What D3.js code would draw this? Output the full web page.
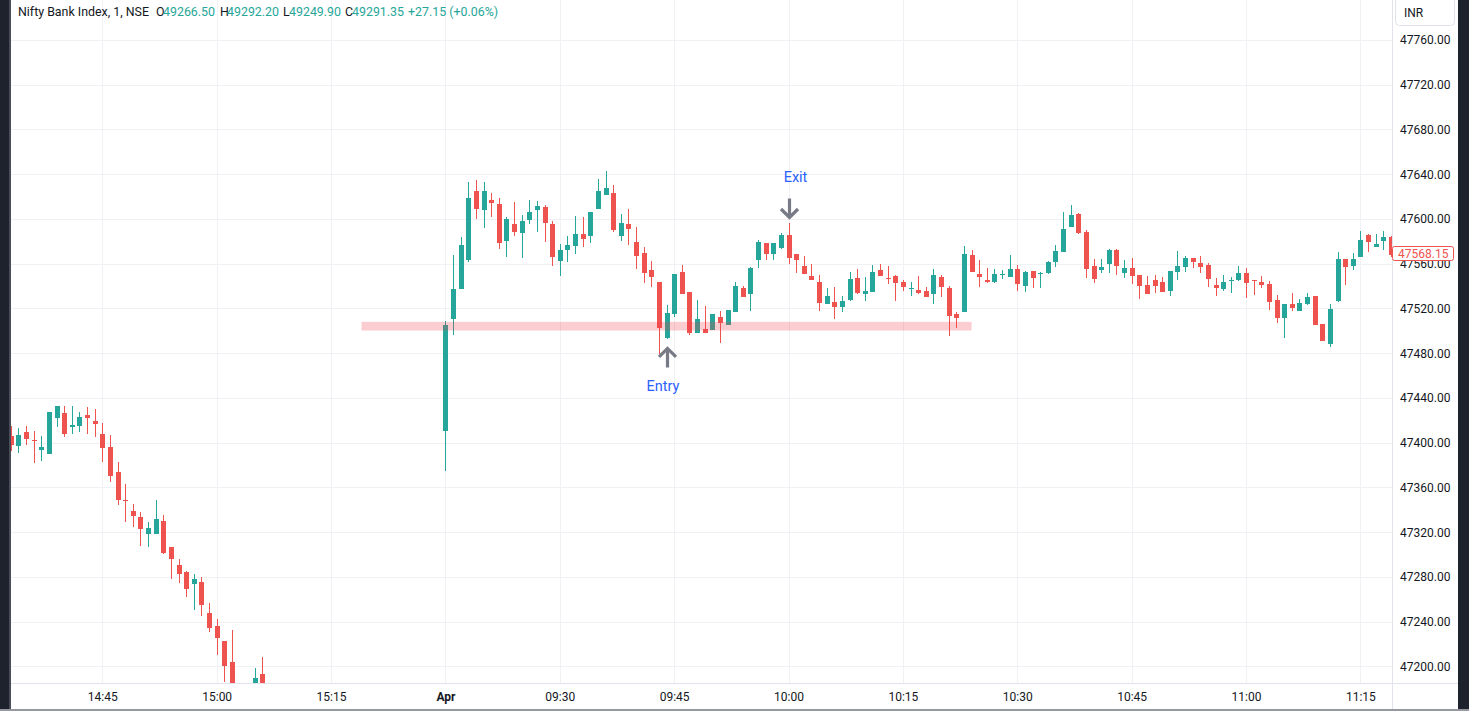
<!DOCTYPE html>
<html><head><meta charset="utf-8">
<script src="https://cdn.jsdelivr.net/npm/d3@7"></script>
<style>html,body{margin:0;padding:0;background:#fff;overflow:hidden}
text{font-family:Roboto,"Noto Sans",Arial,sans-serif}</style>
</head><body>
<svg id="c" width="1469" height="711"></svg>
<script>
// ---------- DATA ----------
const times = [
"03-28 14:33","03-28 14:34","03-28 14:35","03-28 14:36","03-28 14:37","03-28 14:38","03-28 14:39","03-28 14:40","03-28 14:41","03-28 14:42",
"03-28 14:43","03-28 14:44","03-28 14:45","03-28 14:46","03-28 14:47","03-28 14:48","03-28 14:49","03-28 14:50","03-28 14:51","03-28 14:52",
"03-28 14:53","03-28 14:54","03-28 14:55","03-28 14:56","03-28 14:57","03-28 14:58","03-28 14:59","03-28 15:00","03-28 15:01","03-28 15:02",
"03-28 15:05","03-28 15:06",
"04-01 09:15","04-01 09:16","04-01 09:17","04-01 09:18","04-01 09:19","04-01 09:20","04-01 09:21","04-01 09:22","04-01 09:23","04-01 09:24",
"04-01 09:25","04-01 09:26","04-01 09:27","04-01 09:28","04-01 09:29","04-01 09:30","04-01 09:31","04-01 09:32","04-01 09:33","04-01 09:34",
"04-01 09:35","04-01 09:36","04-01 09:37","04-01 09:38","04-01 09:39","04-01 09:40","04-01 09:41","04-01 09:42","04-01 09:43","04-01 09:44",
"04-01 09:45","04-01 09:46","04-01 09:47","04-01 09:48","04-01 09:49","04-01 09:50","04-01 09:51","04-01 09:52","04-01 09:53","04-01 09:54",
"04-01 09:55","04-01 09:56","04-01 09:57","04-01 09:58","04-01 09:59","04-01 10:00","04-01 10:01","04-01 10:02","04-01 10:03","04-01 10:04",
"04-01 10:05","04-01 10:06","04-01 10:07","04-01 10:08","04-01 10:09","04-01 10:10","04-01 10:11","04-01 10:12","04-01 10:13","04-01 10:14",
"04-01 10:15","04-01 10:16","04-01 10:17","04-01 10:18","04-01 10:19","04-01 10:20","04-01 10:21","04-01 10:22","04-01 10:23","04-01 10:24",
"04-01 10:25","04-01 10:26","04-01 10:27","04-01 10:28","04-01 10:29","04-01 10:30","04-01 10:31","04-01 10:32","04-01 10:33","04-01 10:34",
"04-01 10:35","04-01 10:36","04-01 10:37","04-01 10:38","04-01 10:39","04-01 10:40","04-01 10:41","04-01 10:42","04-01 10:43","04-01 10:44",
"04-01 10:45","04-01 10:46","04-01 10:47","04-01 10:48","04-01 10:49","04-01 10:50","04-01 10:51","04-01 10:52","04-01 10:53","04-01 10:54",
"04-01 10:55","04-01 10:56","04-01 10:57","04-01 10:58","04-01 10:59","04-01 11:00","04-01 11:01","04-01 11:02","04-01 11:03","04-01 11:04",
"04-01 11:05","04-01 11:06","04-01 11:07","04-01 11:08","04-01 11:09","04-01 11:10","04-01 11:11","04-01 11:12","04-01 11:13","04-01 11:14",
"04-01 11:15","04-01 11:16","04-01 11:17","04-01 11:18","04-01 11:19"];
const opens = [
47406.4,47396.8,47409.9,47402.8,47393.3,47389.7,47421.8,47426.9,47413.8,47414.7,
47425.1,47419.7,47408.1,47396.5,47374.2,47348.4,47338.6,47333.2,47318.3,47318.3,
47329.6,47306.4,47290.4,47284.1,47273.7,47275.2,47247.6,47236.0,47222.6,47203.8,
47180.0,47193.1,
47410.2,47510.2,47537.8,47563.4,47625.0,47608.3,47616.9,47613.3,47580.6,47595.5,
47587.8,47599.4,47608.3,47610.7,47595.5,47562.8,47572.6,47576.2,47586.6,47585.1,
47609.2,47621.7,47623.2,47585.1,47595.5,47579.4,47569.6,47554.5,47543.8,47493.2,
47514.6,47552.7,47534.8,47498.5,47501.8,47500.3,47512.5,47504.8,47516.4,47538.4,
47533.3,47563.7,47578.5,47569.0,47574.4,47585.7,47568.7,47558.0,47549.1,47543.8,
47524.4,47525.9,47520.9,47528.0,47547.3,47533.3,47534.8,47554.5,47547.3,47549.1,
47543.8,47537.8,47536.6,47535.7,47533.3,47548.2,47538.4,47514.6,47516.4,47567.8,
47550.9,47545.6,47543.8,47550.0,47548.2,47555.4,47540.2,47553.6,47551.2,47551.8,
47561.6,47570.5,47592.8,47604.4,47588.4,47558.0,47554.5,47559.8,47572.3,47551.8,
47556.3,47550.0,47541.1,47545.6,47543.8,47535.7,47552.7,47557.1,47565.2,47560.7,
47559.0,47541.1,47537.5,47544.7,47545.6,47551.8,47545.6,47543.8,47542.0,47527.7,
47511.6,47524.1,47517.9,47524.1,47531.3,47506.3,47488.4,47526.8,47564.3,47558.0,
47566.1,47585.7,47575.0,47580.3,47584.0];
const highs = [
47415.3,47413.5,47415.3,47410.8,47406.4,47427.8,47433.1,47433.1,47433.1,47427.8,
47432.2,47430.4,47418.0,47407.3,47382.3,47363.5,47344.8,47337.7,47328.7,47348.4,
47335.0,47306.4,47295.7,47285.0,47282.3,47279.7,47256.5,47242.2,47222.6,47232.4,
47198.5,47208.6,
47509.0,47567.8,47583.9,47633.0,47634.8,47633.0,47623.2,47618.7,47601.7,47615.1,
47603.5,47616.9,47616.0,47612.5,47598.2,47577.7,47584.8,47602.6,47601.7,47606.2,
47635.6,47642.8,47630.3,47604.4,47608.9,47592.8,47575.0,47562.5,47543.8,47523.2,
47550.9,47558.9,47534.8,47527.7,47522.3,47515.2,47517.9,47518.8,47543.8,47540.2,
47557.1,47581.2,47578.5,47578.5,47587.5,47596.4,47568.7,47567.0,47559.8,47550.0,
47538.4,47539.3,47531.3,47552.7,47555.4,47548.2,47558.9,47559.8,47558.0,47550.0,
47545.5,47543.8,47549.1,47539.3,47555.4,47550.0,47540.2,47516.4,47575.9,47572.3,
47563.4,47556.3,47555.4,47554.5,47567.9,47558.9,47553.6,47553.6,47552.7,47562.5,
47576.8,47606.2,47612.5,47605.3,47590.2,47564.3,47564.3,47573.2,47573.2,47563.4,
47565.2,47550.0,47549.1,47550.0,47548.2,47553.6,47571.4,47567.0,47565.2,47567.0,
47560.7,47547.3,47550.0,47548.2,47558.0,47556.3,47545.6,47549.1,47544.7,47532.2,
47524.1,47534.0,47528.6,47534.0,47531.3,47506.3,47524.1,47570.5,47564.3,47569.6,
47589.3,47586.6,47586.6,47589.3,47584.5];
const lows = [
47392.4,47390.6,47397.7,47381.7,47383.5,47389.7,47413.8,47404.9,47407.6,47409.3,
47407.6,47404.9,47382.6,47364.7,47344.2,47329.0,47324.6,47307.6,47306.7,47318.3,
47300.5,47278.2,47274.6,47262.1,47250.5,47245.2,47230.9,47210.4,47186.0,47170.0,
47175.0,47165.0,
47375.0,47495.9,47537.8,47561.9,47600.0,47592.2,47602.0,47573.5,47566.4,47585.1,
47565.5,47595.8,47588.7,47579.7,47558.3,47549.4,47561.9,47569.0,47575.3,47578.8,
47609.2,47621.7,47588.7,47580.6,47577.1,47555.7,47543.2,47539.6,47479.5,47492.3,
47512.8,47533.3,47495.9,47498.5,47497.7,47500.3,47488.7,47504.8,47516.4,47529.8,
47517.3,47556.5,47563.7,47563.7,47573.5,47560.1,47552.1,47551.2,47545.0,47517.3,
47524.4,47511.0,47516.4,47527.1,47533.3,47527.1,47534.8,47549.1,47542.0,47527.1,
47535.7,47530.7,47532.5,47529.8,47524.4,47529.8,47495.0,47502.1,47516.4,47553.0,
47539.6,47542.9,47542.9,47546.4,47548.2,47535.7,47534.8,47538.4,47538.4,47550.9,
47557.1,47570.5,47592.8,47586.6,47547.3,47542.9,47551.8,47551.8,47550.0,47547.3,
47542.0,47528.6,47533.1,47534.0,47534.8,47531.3,47545.6,47552.7,47556.3,47551.8,
47539.3,47531.3,47535.7,47534.0,47544.7,47529.5,47532.2,47538.4,47518.8,47507.2,
47493.8,47517.9,47517.9,47523.2,47505.4,47491.1,47485.8,47525.9,47541.1,47554.5,
47566.1,47570.5,47575.0,47572.3,47566.0];
const closes = [
47397.7,47407.3,47403.1,47401.3,47396.5,47427.8,47433.1,47407.6,47416.2,47423.3,
47422.4,47416.5,47395.1,47370.1,47348.7,47347.8,47334.4,47322.8,47323.4,47331.4,
47301.4,47296.0,47282.6,47269.3,47277.9,47255.0,47234.5,47225.5,47200.6,47178.0,
47189.6,47172.0,
47505.4,47537.5,47576.8,47618.7,47609.2,47625.0,47614.5,47578.8,47599.7,47588.7,
47598.2,47606.2,47611.6,47596.7,47566.4,47572.3,47576.8,47586.6,47582.4,47606.2,
47625.0,47627.6,47590.4,47596.4,47591.3,47567.2,47552.1,47548.5,47502.1,47516.1,
47550.9,47533.3,47498.5,47510.7,47497.7,47515.2,47506.6,47518.8,47540.2,47529.8,
47556.5,47579.7,47569.0,47578.5,47585.7,47565.5,47563.7,47551.2,47545.8,47525.0,
47531.3,47520.9,47526.8,47546.4,47533.9,47535.7,47552.7,47549.1,47546.4,47543.2,
47539.3,47538.4,47533.9,47530.4,47550.0,47539.3,47513.7,47511.9,47568.7,47553.0,
47548.2,47543.8,47550.9,47550.9,47555.4,47542.0,47552.7,47547.3,47552.1,47561.6,
47571.4,47591.0,47603.5,47587.5,47555.4,47546.4,47557.1,47572.3,47558.0,47556.3,
47549.1,47540.2,47533.1,47540.2,47534.8,47553.6,47558.0,47565.2,47561.6,47557.1,
47546.4,47538.4,47543.8,47545.6,47551.8,47542.9,47544.7,47541.1,47525.9,47511.6,
47524.1,47520.6,47525.0,47530.4,47505.4,47491.1,47519.7,47564.3,47557.1,47564.3,
47581.2,47579.5,47577.7,47583.9,47568.15];

const priceTicks = [47200,47240,47280,47320,47360,47400,47440,47480,47520,47560,47600,47640,47680,47720,47760];
const timeTickTimes  = ["03-28 14:45","03-28 15:00","03-28 15:15","04-01 09:15","04-01 09:30","04-01 09:45","04-01 10:00","04-01 10:15","04-01 10:30","04-01 10:45","04-01 11:00","04-01 11:15"];
const timeTickLabels = ["14:45","15:00","15:15","Apr","09:30","09:45","10:00","10:15","10:30","10:45","11:00","11:15"];

const zoneFrom = "03-28 15:19", zoneTo = "04-01 10:24";
const zoneLow = 47500.3, zoneHigh = 47508.0;
const entryTime = "04-01 09:44", exitTime = "04-01 10:00";

const headerTitle = "Nifty Bank Index, 1, NSE";
const headerLabels = ["O","H","L","C"];
const headerValues = ["49266.50","49292.20","49249.90","49291.35"];
const headerChange = "+27.15 (+0.06%)";

// ---------- SETUP ----------
const UP="#26a69a", DOWN="#ef5350", GRID="#f0f1f4", BORDER="#e0e3eb", TXT="#131722";
const plot={left:11,right:1392,top:0,bottom:683};
const toMin = s => +s.slice(0,2)*60 + +s.slice(3,5);
const d1Start=toMin("14:33"), d1End=toMin("15:30"), d2Start=toMin("09:15");
function barIndex(t){const [d,hm]=t.split(" ");const m=toMin(hm);return d==="03-28"? m-d1Start : (d1End-d1Start)+(m-d2Start);}

const x = d3.scaleLinear().domain([barIndex("03-28 14:45"), barIndex("04-01 11:15")]).range([102.3, 1360.4]);
const y = d3.scaleLinear().domain([47200, 47760]).range([666.4, 40]);

const bars = times.map((t,i)=>({t, i:barIndex(t), o:opens[i], h:highs[i], l:lows[i], c:closes[i]}));

const svg = d3.select("#c");
svg.append("rect").attr("width",1469).attr("height",711).attr("fill","#fff");
svg.append("clipPath").attr("id","pc").append("rect")
  .attr("x",plot.left).attr("y",plot.top).attr("width",plot.right-plot.left).attr("height",plot.bottom-plot.top);

// grid
const grid = svg.append("g").attr("shape-rendering","crispEdges");
grid.selectAll("line.h").data(priceTicks).join("line")
  .attr("x1",plot.left).attr("x2",plot.right)
  .attr("y1",d=>Math.round(y(d))+0.5).attr("y2",d=>Math.round(y(d))+0.5)
  .attr("stroke",GRID);
grid.selectAll("line.v").data(timeTickTimes).join("line")
  .attr("y1",plot.top).attr("y2",plot.bottom)
  .attr("x1",d=>Math.round(x(barIndex(d)))+0.5).attr("x2",d=>Math.round(x(barIndex(d)))+0.5)
  .attr("stroke",GRID);

// candles
const cg = svg.append("g").attr("clip-path","url(#pc)").attr("shape-rendering","crispEdges");
const cand = cg.selectAll("g").data(bars).join("g");
cand.append("rect")
  .attr("x",d=>Math.round(x(d.i)))
  .attr("width",1)
  .attr("y",d=>Math.round(y(d.h)))
  .attr("height",d=>Math.max(1,Math.round(y(d.l))-Math.round(y(d.h))))
  .attr("fill",d=>d.c>=d.o?UP:DOWN);
cand.append("rect")
  .attr("x",d=>Math.round(x(d.i))-2)
  .attr("width",5)
  .attr("y",d=>Math.round(y(Math.max(d.o,d.c))))
  .attr("height",d=>Math.max(1,Math.round(y(Math.min(d.o,d.c)))-Math.round(y(Math.max(d.o,d.c)))))
  .attr("fill",d=>d.c>=d.o?UP:DOWN);

// zone band
svg.append("rect").attr("clip-path","url(#pc)")
  .attr("x",x(barIndex(zoneFrom))).attr("width",x(barIndex(zoneTo))-x(barIndex(zoneFrom)))
  .attr("y",y(zoneHigh)).attr("height",y(zoneLow)-y(zoneHigh))
  .attr("fill","#f23645").attr("fill-opacity",0.25);

// entry / exit annotations
const eb = bars.find(b=>b.t===entryTime), xb = bars.find(b=>b.t===exitTime);
const ex = Math.round(x(eb.i))+0.5, eTip = y(eb.l)+9;
svg.append("path")
  .attr("d",`M${ex-8.5},${eTip+8.5}L${ex},${eTip}L${ex+8.5},${eTip+8.5}M${ex},${eTip}L${ex},${eTip+19}`)
  .attr("fill","none").attr("stroke","#787b86").attr("stroke-width",3.2);
svg.append("text").attr("x",ex-4.5).attr("y",eTip+42.5).attr("text-anchor","middle")
  .attr("font-size",14.5).attr("fill","#2962ff").text("Entry");
const xx = Math.round(x(xb.i))+0.5, xTip = y(xb.h)-5.5;
svg.append("path")
  .attr("d",`M${xx-8.5},${xTip-8.5}L${xx},${xTip}L${xx+8.5},${xTip-8.5}M${xx},${xTip}L${xx},${xTip-19}`)
  .attr("fill","none").attr("stroke","#787b86").attr("stroke-width",3.2);
svg.append("text").attr("x",xx+6).attr("y",xTip-35.5).attr("text-anchor","middle")
  .attr("font-size",14.5).attr("fill","#2962ff").text("Exit");

// right price axis
const ya = svg.append("g").attr("transform",`translate(${plot.right},0)`)
  .call(d3.axisRight(y).tickValues(priceTicks).tickFormat(d3.format(".2f")).tickSize(0).tickPadding(8));
ya.select(".domain").remove();
ya.selectAll("text").attr("font-size",12).attr("fill",TXT).attr("font-family","Roboto, 'Noto Sans', Arial, sans-serif");

// bottom time axis
const xa = svg.append("g").attr("transform",`translate(0,${plot.bottom})`)
  .call(d3.axisBottom(x).tickValues(timeTickTimes.map(barIndex)).tickFormat((d,i)=>timeTickLabels[i]).tickSize(0).tickPadding(9.5));
xa.select(".domain").remove();
xa.selectAll("text").attr("font-size",12).attr("fill",TXT).attr("font-family","Roboto, 'Noto Sans', Arial, sans-serif")
  .attr("font-weight",(d,i)=>timeTickLabels[i]==="Apr"?"bold":"normal");

// axis borders
const bd = svg.append("g").attr("shape-rendering","crispEdges");
bd.append("line").attr("x1",plot.right+0.5).attr("x2",plot.right+0.5).attr("y1",0).attr("y2",711).attr("stroke",BORDER);
bd.append("line").attr("x1",plot.left).attr("x2",1458).attr("y1",plot.bottom+0.5).attr("y2",plot.bottom+0.5).attr("stroke",BORDER);

// last price label
const last = closes[closes.length-1];
const ly = y(last);
svg.append("rect").attr("x",1392.5).attr("y",Math.round(ly)-8.5).attr("width",61).attr("height",14).attr("rx",2)
  .attr("fill","#fff").attr("stroke",DOWN);
svg.append("text").attr("x",1398).attr("y",Math.round(ly)+3).attr("font-size",12).attr("fill",DOWN)
  .text(d3.format(".2f")(last));

// INR box
svg.append("rect").attr("x",1395.5).attr("y",-4).attr("width",59).attr("height",29.5).attr("rx",4)
  .attr("fill","#fff").attr("stroke",BORDER);
svg.append("text").attr("x",1404).attr("y",17).attr("font-size",12).attr("fill",TXT).text("INR");

// header legend
const hg = svg.append("g").attr("font-size",12.4);
hg.append("text").attr("x",18).attr("y",15.5).attr("fill",TXT).text(headerTitle);
const lblX=[156,220,283,345], valX=[163,227,289,352];
headerLabels.forEach((l,i)=>{
  hg.append("text").attr("x",lblX[i]).attr("y",15.5).attr("fill",TXT).text(l);
  hg.append("text").attr("x",valX[i]).attr("y",15.5).attr("fill",UP).text(headerValues[i]);
});
hg.append("text").attr("x",408).attr("y",15.5).attr("fill",UP).text(headerChange);

// frame strips
svg.append("rect").attr("x",0).attr("y",0).attr("width",9).attr("height",711).attr("fill","#1e222d");
svg.append("rect").attr("x",9).attr("y",0).attr("width",2).attr("height",711).attr("fill","#4a4d57");
svg.append("rect").attr("x",1458).attr("y",0).attr("width",11).attr("height",711).attr("fill","#1e222d");
svg.append("rect").attr("x",0).attr("y",709).attr("width",1469).attr("height",2).attr("fill","#9598a1");
</script>
</body></html>
